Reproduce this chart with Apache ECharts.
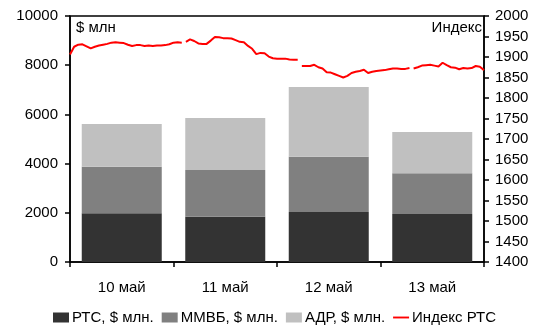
<!DOCTYPE html>
<html><head><meta charset="utf-8">
<script src="https://cdn.jsdelivr.net/npm/echarts@6/dist/echarts.min.js"></script>
<style>html,body{margin:0;padding:0;background:#fff}#c{width:544px;height:325px}</style>
</head><body><div id="c"></div>
<script>
var categories = ['10 май', '11 май', '12 май', '13 май'];
var rts  = [1980, 1840, 2030, 1950];
var mmvb = [1894, 1900, 2250, 1655];
var adr  = [1736, 2114, 2830, 1680];
var leftTicks = [0, 2000, 4000, 6000, 8000, 10000];
var rightTicks = [1400, 2000, 50];
// intraday RTS index per day (equally spaced readings)
var idxDay1 = [1906,1925,1930,1931,1926,1921,1925,1928,1930,1932,1935,1936,1935,1934,1930,1927,1929,1929,1927,1928,1927,1928,1928,1929,1931,1935,1936,1935];
var idxDay2 = [1937,1943,1939,1933,1932,1932,1940,1949,1948,1946,1946,1945,1941,1937,1936,1927,1920,1907,1910,1909,1901,1897,1896,1896,1896,1894,1893,1893];
var idxDay3 = [1878,1878,1878,1881,1875,1872,1863,1862,1858,1854,1850,1854,1861,1864,1866,1869,1861,1864,1866,1867,1868,1870,1872,1872,1871,1871,1873];
var idxDay4 = [1872,1875,1879,1880,1881,1879,1877,1886,1880,1875,1874,1870,1873,1872,1873,1878,1876,1868];

var lineData = [];
var t = 0;
[idxDay1, idxDay2, idxDay3, idxDay4].forEach(function (day, k) {
  if (k > 0) lineData.push([t - 0.5, '-']);
  day.forEach(function (v) { lineData.push([t, v]); t++; });
});
var tMax = t - 1;

var FONT = 'Arial, "Liberation Sans", sans-serif';
var plain = function (v) { return String(v); };
var chart = echarts.init(document.getElementById('c'), null, {renderer: 'canvas'});
chart.setOption({
  animation: false,
  textStyle: {fontFamily: FONT},
  grid: {left: 70, right: 60, top: 16, bottom: 63, show: true, borderColor: '#000', borderWidth: 1.5, containLabel: false},
  legend: {
    left: 48, top: 305, itemWidth: 16, itemHeight: 10, itemGap: 8,
    textStyle: {fontFamily: FONT, fontSize: 15, color: '#000', padding: [0, 0, 0, -2]},
    data: [
      {name: 'РТС, $ млн.', icon: 'rect'},
      {name: 'ММВБ, $ млн.', icon: 'rect'},
      {name: 'АДР, $ млн.', icon: 'rect'},
      {name: 'Индекс РТС', icon: 'path://M0,0L17,0L17,2L0,2Z'}
    ]
  },
  xAxis: [
    {type: 'category', data: categories, boundaryGap: true,
     axisLine: {lineStyle: {color: '#000', width: 1.5}},
     axisTick: {show: true, length: 5, lineStyle: {color: '#000', width: 1.5}},
     axisLabel: {fontSize: 15, color: '#000', margin: 18, fontFamily: FONT}},
    {type: 'value', min: 0, max: tMax, show: false}
  ],
  yAxis: [
    {type: 'value', min: leftTicks[0], max: leftTicks[leftTicks.length - 1], interval: leftTicks[1] - leftTicks[0],
     axisLine: {show: true, lineStyle: {color: '#000', width: 1.5}},
     axisTick: {show: true, length: 5, lineStyle: {color: '#000', width: 1.5}},
     splitLine: {show: false},
     axisLabel: {fontSize: 15, color: '#000', margin: 12, fontFamily: FONT, formatter: plain}},
    {type: 'value', min: rightTicks[0], max: rightTicks[1], interval: rightTicks[2], position: 'right',
     axisLine: {show: true, lineStyle: {color: '#000', width: 1.5}},
     axisTick: {show: true, length: 5, lineStyle: {color: '#000', width: 1.5}},
     splitLine: {show: false},
     axisLabel: {fontSize: 15, color: '#000', margin: 11, fontFamily: FONT, formatter: plain}}
  ],
  series: [
    {name: 'РТС, $ млн.', type: 'bar', stack: 'v', data: rts, barWidth: 80, itemStyle: {color: '#333333'}},
    {name: 'ММВБ, $ млн.', type: 'bar', stack: 'v', data: mmvb, barWidth: 80, itemStyle: {color: '#808080'}},
    {name: 'АДР, $ млн.', type: 'bar', stack: 'v', data: adr, barWidth: 80, itemStyle: {color: '#c0c0c0'}},
    {name: 'Индекс РТС', type: 'line', xAxisIndex: 1, yAxisIndex: 1, data: lineData, symbol: 'none',
     connectNulls: false, lineStyle: {color: '#ff0000', width: 2}, itemStyle: {color: '#ff0000'}}
  ],
  graphic: [
    {type: 'text', left: 76, top: 20, style: {text: '$ млн', font: '15px ' + FONT, fill: '#000'}},
    {type: 'text', right: 62, top: 20, style: {text: 'Индекс', font: '15px ' + FONT, fill: '#000', textAlign: 'right'}}
  ]
});
</script></body></html>
